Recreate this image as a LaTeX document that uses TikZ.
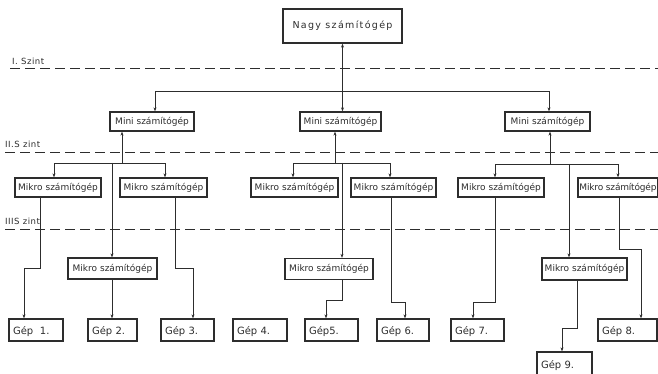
\documentclass[tikz,border=0pt]{standalone}
\usepackage{fontspec}
\setmainfont{DejaVu Sans}
\usetikzlibrary{arrows.meta}
\definecolor{ink}{RGB}{45,45,45}
\begin{document}
\begin{tikzpicture}[x=1pt,y=-1pt,
  box/.style={draw=ink, line width=1.3pt, inner sep=0pt, text=ink, font=\fontsize{9}{10}\selectfont},
  mbox/.style={box, minimum width=#1, minimum height=19pt},
  gep/.style={box, minimum height=22pt, text width=#1, align=left, inner xsep=4pt, text depth=0pt, font=\fontsize{10}{11}\selectfont},
  conn/.style={draw=ink, line width=0.7pt},
  arr/.style={conn, -{Stealth[length=4pt,width=3pt]}},
  darr/.style={conn, {Stealth[length=4pt,width=3pt]}-{Stealth[length=4pt,width=3pt]}},
  level/.style={draw=ink, line width=0.7pt, dash pattern=on 10pt off 5pt},
  lvltext/.style={text=ink, font=\fontsize{8.5}{9}\selectfont\addfontfeature{LetterSpace=6}, inner sep=0pt, anchor=south west}
]
\useasboundingbox (0,0) rectangle (658,374);
\clip (0,0) rectangle (658,374);
\fill[white] (0,0) rectangle (658,374);

% level lines
\coordinate (l1a) at (10,68);  \coordinate (l1b) at (658,68);
\coordinate (l2a) at (5,152);  \coordinate (l2b) at (658,152);
\coordinate (l3a) at (5,229);  \coordinate (l3b) at (658,229);
\draw[level] (l1a) -- (l1b);
\draw[level] (l2a) -- (l2b);
\draw[level] (l3a) -- (l3b);
\node[lvltext] (t1) at (12,65) {I. Szint};
\node[lvltext] (t2) at (5,148) {II.S zint};
\node[lvltext] (t3) at (5,225) {IIIS zint};

% boxes
\node[box, minimum width=119pt, minimum height=34pt, font=\fontsize{9.5}{10}\selectfont] (nagy) at (342.5,26)
  {\addfontfeature{LetterSpace=14}Nagy számítógép};
\node[mbox=84pt] (miniL) at (152,121.5) {Mini számítógép};
\node[mbox=81pt] (miniM) at (340.5,121.5) {Mini számítógép};
\node[mbox=85pt] (miniR) at (547.5,121.5) {Mini számítógép};

\node[mbox=86pt] (mikL1) at (58,187.5) {Mikro számítógép};
\node[mbox=87pt] (mikL2) at (163.5,187.5) {Mikro számítógép};
\node[mbox=87pt] (mikM1) at (294.5,187.5) {Mikro számítógép};
\node[mbox=85pt] (mikM2) at (393.5,187.5) {Mikro számítógép};
\node[mbox=86pt] (mikR1) at (501,187.5) {Mikro számítógép};
\node[mbox=80pt] (mikR2) at (618,187.5) {\addfontfeature{LetterSpace=-2}Mikro számítógép};

\node[box, minimum width=89pt, minimum height=21pt] (lowL) at (112.5,268.5) {Mikro számítógép};
\node[box, minimum width=88pt, minimum height=21pt] (lowM) at (329,269) {Mikro számítógép};
\node[box, minimum width=85pt, minimum height=22pt] (lowR) at (584.5,269) {Mikro számítógép};

\node[gep=46pt] (gep1) at (36,330) {Gép\ \ 1.};
\node[gep=41pt] (gep2) at (112.5,330) {Gép 2.};
\node[gep=45pt] (gep3) at (187.5,330) {Gép 3.};
\node[gep=46pt] (gep4) at (260,330) {Gép 4.};
\node[gep=45pt] (gep5) at (331.5,330) {Gép5.};
\node[gep=44pt] (gep6) at (403,330) {Gép 6.};
\node[gep=45pt] (gep7) at (477.5,330) {Gép 7.};
\node[gep=51pt] (gep8) at (627.5,330) {Gép 8.};
\node[gep=47pt, minimum height=24pt] (gep9) at (564.5,364) {Gép 9.};

% level 1 connectors
\coordinate (b1) at (342.5,91);
\coordinate (x155) at (155,0);
\coordinate (x549) at (549,0);
\draw[darr] (nagy.south) -- (nagy.south |- miniM.north);
\draw[arr] (b1) -| (x155 |- miniL.north);
\draw[arr] (b1) -| (x549 |- miniR.north);

% left group
\coordinate (jL) at (122,163);
\coordinate (x54) at (54,0);
\coordinate (x165) at (165,0);
\coordinate (x112) at (112,0);
\draw[arr] (jL) -- (jL |- miniL.south);
\draw[arr] (jL) -| (x54 |- mikL1.north);
\draw[arr] (jL) -| (x165 |- mikL2.north);
\draw[arr] (x112 |- jL) -- (x112 |- lowL.north);

% middle group
\coordinate (jM) at (335,163);
\coordinate (x293) at (293,0);
\coordinate (x390) at (390,0);
\coordinate (x342) at (342,0);
\draw[arr] (jM) -- (jM |- miniM.south);
\draw[arr] (jM) -| (x293 |- mikM1.north);
\draw[arr] (jM) -| (x390 |- mikM2.north);
\draw[arr] (x342 |- jM) -- (x342 |- lowM.north);

% right group
\coordinate (jR) at (550,164);
\coordinate (x495) at (495,0);
\coordinate (x618) at (618,0);
\coordinate (x569) at (569,0);
\draw[arr] (jR) -- (jR |- miniR.south);
\draw[arr] (jR) -| (x495 |- mikR1.north);
\draw[arr] (jR) -| (x618 |- mikR2.north);
\draw[arr] (x569 |- jR) -- (x569 |- lowR.north);

% to machines
\coordinate (k1) at (40,268);  \coordinate (g1) at (24,0);
\draw[arr] (k1 |- mikL1.south) -- (k1) -| (g1 |- gep1.north);
\draw[arr] (x112 |- lowL.south) -- (x112 |- gep2.north);
\coordinate (k3) at (175,268); \coordinate (g3) at (193,0);
\draw[arr] (k3 |- mikL2.south) -- (k3) -| (g3 |- gep3.north);
\coordinate (k5) at (342,300); \coordinate (g5) at (326,0);
\draw[arr] (k5 |- lowM.south) -- (k5) -| (g5 |- gep5.north);
\coordinate (k6) at (391,302); \coordinate (g6) at (405,0);
\draw[arr] (k6 |- mikM2.south) -- (k6) -| (g6 |- gep6.north);
\coordinate (k7) at (495,302); \coordinate (g7) at (473,0);
\draw[arr] (k7 |- mikR1.south) -- (k7) -| (g7 |- gep7.north);
\coordinate (k9) at (577,328); \coordinate (g9) at (562,0);
\draw[arr] (k9 |- lowR.south) -- (k9) -| (g9 |- gep9.north);
\coordinate (k8) at (619,249); \coordinate (g8) at (641,0);
\draw[arr] (k8 |- mikR2.south) -- (k8) -| (g8 |- gep8.north);
\end{tikzpicture}
\end{document}
